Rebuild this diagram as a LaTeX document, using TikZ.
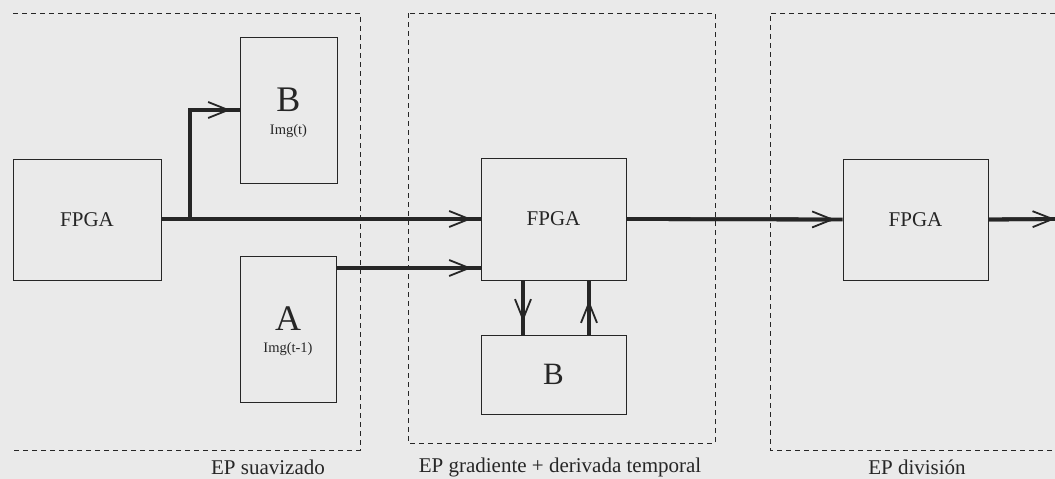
\documentclass[tikz,border=0pt]{standalone}
\usepackage{fontspec}
\setmainfont{Liberation Serif}
\usetikzlibrary{arrows.meta}
\definecolor{bg}{HTML}{EAEAEA}
\definecolor{ink}{HTML}{262626}
\tikzset{
  blk/.style={draw=ink, line width=0.9pt, fill=bg, inner sep=0pt, text=ink},
  grp/.style={draw=ink, line width=1pt, dash pattern=on 5pt off 4pt},
  lbl/.style={font=\fontsize{21}{23}\selectfont, text=ink, inner sep=0pt},
  conn/.style={draw=ink, line width=3.8pt,
    postaction={draw=ink, line width=3.8pt, shorten >=#1,
      -{Straight Barb[length=20pt,width=16pt,line width=1.8pt]}}},
  conn/.default=9pt
}
\begin{document}
\begin{tikzpicture}[x=1pt,y=-1pt]
\useasboundingbox[fill=bg] (0,0) rectangle (1055,479);
% groups
\draw[grp] (13,13) -- (360,13) -- (360,450) -- (13,450);
\draw[grp] (408,13) rectangle (715,443);
\draw[grp] (1055,13) -- (770,13) -- (770,450) -- (1055,450);
\node[lbl] (l1) at (268,467) {EP suavizado};
\node[lbl] (l2) at (560,467) {EP gradiente + derivada temporal};
\node[lbl] (l3) at (917,467) {EP división};
% blocks
\node[blk, minimum width=148pt, minimum height=121pt, font=\fontsize{21}{23}\selectfont] (f1) at (87,219.5) {FPGA};
\node[blk, minimum width=97pt, minimum height=146pt] (bt) at (288.5,110) {};
\node[text=ink, font=\fontsize{36}{38}\selectfont, inner sep=0pt] (btl) at (288.5,100) {B};
\node[text=ink, font=\fontsize{14.5}{16}\selectfont, inner sep=0pt] (bts) at (288.5,131) {Img(t)};
\node[blk, minimum width=96pt, minimum height=146pt] (a) at (288,329) {};
\node[text=ink, font=\fontsize{36}{38}\selectfont, inner sep=0pt] (al) at (288,319) {A};
\node[text=ink, font=\fontsize{14.5}{16}\selectfont, inner sep=0pt] (as) at (288,349) {Img(t-1)};
\node[blk, minimum width=145pt, minimum height=122pt, font=\fontsize{21}{23}\selectfont] (f2) at (553.5,219) {FPGA};
\node[blk, minimum width=145pt, minimum height=79pt, font=\fontsize{31}{33}\selectfont] (b2) at (553.5,374.5) {B};
\node[blk, minimum width=145pt, minimum height=121pt, font=\fontsize{21}{23}\selectfont] (f3) at (915.5,219.5) {FPGA};
\coordinate (out) at (1055,219);
\coordinate (j) at (190,219);
% connectors
\draw[conn] (f1.east |- 0,219) -- (f2.west |- 0,219);
\draw[conn] (j) |- (bt.west);
\draw[conn] (a.east |- 0,268) -- (f2.west |- 0,268);
\draw[conn=13pt] (f2.south -| 523,0) -- (b2.north -| 523,0);
\draw[conn=20pt] (b2.north -| 589,0) -- (f2.south -| 589,0);
\draw[conn=8pt] (f2.east) -- (f3.west);
\draw[conn=0pt] (f3.east) -- (out);
\end{tikzpicture}
\end{document}
